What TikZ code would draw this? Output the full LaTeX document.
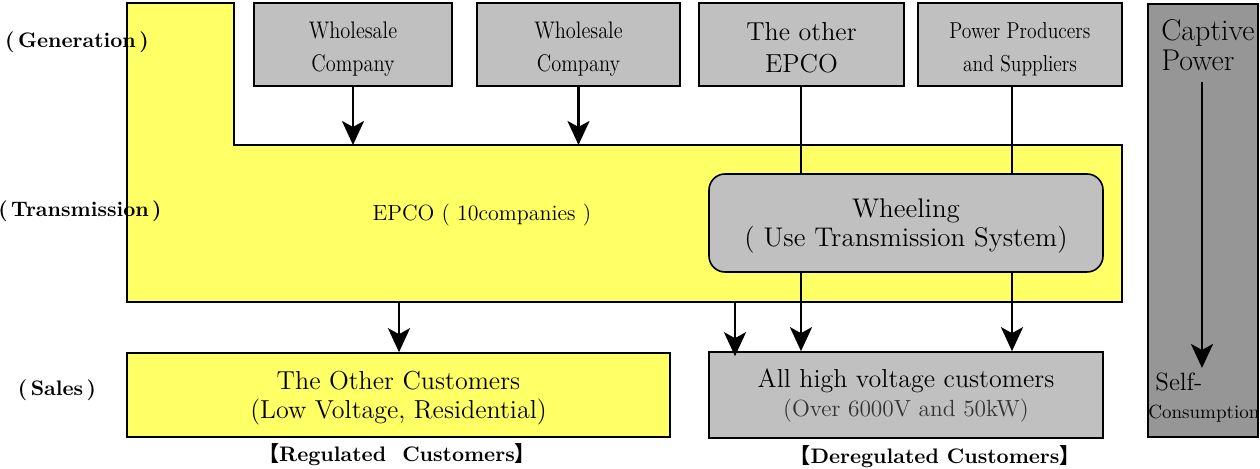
\documentclass[tikz,border=0pt]{standalone}
\usepackage{fontspec}
\newfontfamily\cjk{Noto Sans CJK JP}
\newfontfamily\narrow[FakeStretch=0.85]{Latin Modern Roman}
\usetikzlibrary{arrows.meta,positioning}
\definecolor{epcoyellow}{RGB}{255,255,102}
\definecolor{boxgray}{RGB}{192,192,192}
\definecolor{captivegray}{RGB}{150,150,150}
\tikzset{
  genbox/.style={draw, line width=0.8pt, fill=boxgray, minimum height=41.5pt, inner sep=0pt},
  boxtxt/.style={align=center, inner sep=0pt},
  flow/.style={-{Stealth[length=12pt,width=11pt,inset=3pt]}, line width=1.4pt},
  tag/.style={font=\bfseries\fontsize{10.5}{12}\selectfont},
  bigtxt/.style={font=\fontsize{13}{14.5}\selectfont}
}
\begin{document}
\begin{tikzpicture}[x=0.5pt, y=-0.5pt, line join=miter]
  \useasboundingbox (0,0) rectangle (1260,469);
  \path
    (234,145) coordinate (epcoTop)
    (127,302) coordinate (epcoBot)
    (801,0) coordinate (xa)
    (1012,0) coordinate (xb)
    (735,0) coordinate (xc)
    (399,0) coordinate (xd)
    (1202,82) coordinate (capTop)
    (1202,368) coordinate (capBot);
  % EPCO area
  \filldraw[fill=epcoyellow, draw=black, line width=0.8pt]
    (127,3) -- (234,3) -- (234,145) -- (1122,145) -- (1122,302) -- (127,302) -- cycle;
  \node[font=\fontsize{11}{12}\selectfont] (epco) at (482,215) {EPCO ( 10companies )};
  % generation
  \node[genbox, minimum width=99pt] (whole1) at (353,44.5) {};
  \node[genbox, minimum width=101.5pt] (whole2) at (578.5,44.5) {};
  \node[genbox, minimum width=102.5pt] (other) at (801.5,44.5) {};
  \node[genbox, minimum width=102pt] (pps) at (1020,44.5) {};
  \node[boxtxt, font=\narrow\fontsize{12}{16.5}\selectfont] (whole1txt) at ([yshift=-2.25pt]whole1.center) {Wholesale\\Company};
  \node[boxtxt, font=\narrow\fontsize{12}{16.5}\selectfont] (whole2txt) at ([yshift=-2.25pt]whole2.center) {Wholesale\\Company};
  \node[boxtxt, font=\fontsize{13}{16}\selectfont] (othertxt) at ([yshift=-1.5pt]other.center) {The other\\EPCO};
  \node[boxtxt, font=\narrow\fontsize{11.5}{16.5}\selectfont] (ppstxt) at ([yshift=-2.25pt]pps.center) {Power Producers\\and Suppliers};
  \node[draw, line width=0.8pt, fill=captivegray, minimum width=55pt, minimum height=216.5pt] (captive) at (1203,220.5) {};
  \node[anchor=north west, align=left, inner sep=0pt, font=\fontsize{15}{15}\selectfont] (captxt) at (1161,19) {Captive\\Power};
  \node[anchor=west, inner sep=0pt, font=\fontsize{12.5}{12}\selectfont] (self) at (1155,382) {Self-};
  \node[anchor=west, inner sep=0pt, font=\fontsize{9.5}{10}\selectfont] (cons) at (1148,414) {Consumption};
  % transmission
  \node[genbox, rounded corners=8pt, minimum width=197pt, minimum height=49pt] (wheel) at (906,223) {};
  \node[boxtxt, font=\fontsize{13.5}{14.5}\selectfont] (wheeltxt) at ([yshift=-1.75pt]wheel.center) {Wheeling\\( Use Transmission System)};
  % sales
  \node[genbox, fill=epcoyellow, minimum width=271.5pt, minimum height=42pt] (lowv) at (398.5,395) {};
  \node[boxtxt, bigtxt] (lowvtxt) at ([yshift=-1.5pt]lowv.center) {The Other Customers\\(Low Voltage, Residential)};
  \node[genbox, minimum width=197pt, minimum height=43pt] (highv) at (906,395) {};
  \node[boxtxt, bigtxt] (highvtxt) at ([yshift=-0.5pt]highv.center) {All high voltage customers\\{\fontsize{11.7}{14.5}\selectfont\color{black!80}(Over 6000V and 50kW)}};
  \node[tag] (gen) at (77,42) {(\,Generation\,)};
  \node[tag] (trans) at (80,211) {(\,Transmission\,)};
  \node[tag] (sales) at (57,390) {(\,Sales\,)};
  \node[tag] (reg) at (397,455) {{\cjk 【}Regulated\ \ Customers{\cjk 】}};
  \node[tag] (dereg) at (935,457) {{\cjk 【}Deregulated Customers{\cjk 】}};
  % flows
  \draw[flow] (whole1.south) -- (whole1.south |- epcoTop);
  \draw[flow] (whole2.south) -- (whole2.south |- epcoTop);
  \draw[line width=1.4pt] (other.south -| xa) -- (wheel.north -| xa);
  \draw[line width=1.4pt] (pps.south -| xb) -- (wheel.north -| xb);
  \draw[flow] (wheel.south -| xa) -- (highv.north -| xa);
  \draw[flow] (wheel.south -| xb) -- (highv.north -| xb);
  \draw[flow] (epcoBot -| xc) -- ([yshift=-2.5pt]highv.north -| xc);
  \draw[flow] (epcoBot -| xd) -- (lowv.north -| xd);
  \draw[flow] (capTop) -- (capBot);
\end{tikzpicture}
\end{document}
